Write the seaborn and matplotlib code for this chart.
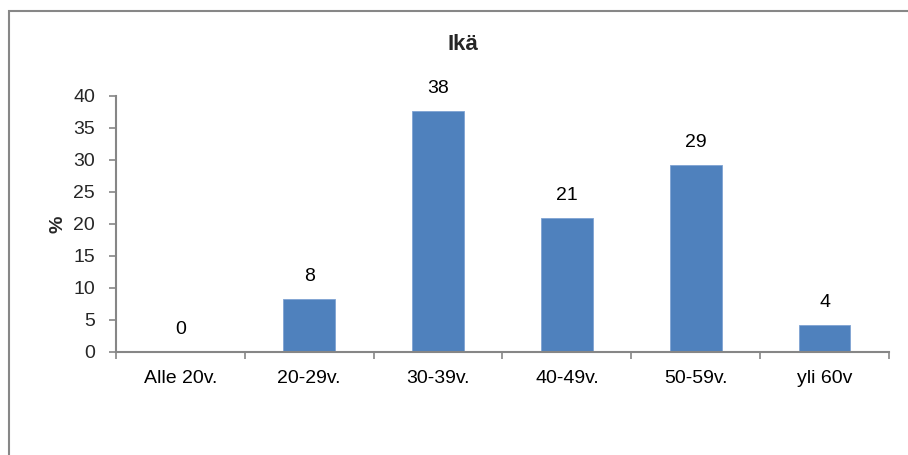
import matplotlib
matplotlib.use("Agg")
import matplotlib.pyplot as plt
import seaborn as sns
import pandas as pd
from matplotlib.patches import Rectangle

categories = ["Alle 20v.", "20-29v.", "30-39v.", "40-49v.", "50-59v.", "yli 60v"]
values = [0, 8.3, 37.6, 20.9, 29.2, 4.2]
labels = ["0", "8", "38", "21", "29", "4"]
yticks = [0, 5, 10, 15, 20, 25, 30, 35, 40]

sns.set_theme(style="white")
plt.rcParams["font.family"] = ["Liberation Sans", "DejaVu Sans"]

df = pd.DataFrame({"cat": categories, "val": values})

fig = plt.figure(figsize=(9.08, 4.55), dpi=100)
ax = fig.add_axes([116/908, 1-352/455, (889-116)/908, (352-96)/455])

sns.barplot(data=df, x="cat", y="val", color="#4F81BD", width=0.4,
            saturation=1, ax=ax, edgecolor="#7FA3D3", linewidth=0.6)

ax.bar_label(ax.containers[0], labels=labels, padding=10, fontsize=14, color="black")

ax.set_xlim(-0.5, len(categories) - 0.5)
ax.set_ylim(0, 40)
ax.set_yticks(yticks)
ax.set_yticklabels([str(t) for t in yticks], fontsize=14)
ax.set_xticks(range(len(categories)))
ax.set_xticklabels(categories, fontsize=14)
ax.set_xticks([i - 0.5 for i in range(len(categories) + 1)], minor=True)
ax.tick_params(axis="x", which="major", length=0, pad=13, colors="black")
ax.tick_params(axis="x", which="minor", length=5, width=1.2, color="#868686", direction="out", bottom=True)
ax.tick_params(axis="y", which="major", length=5, width=1.2, color="#868686", direction="out", left=True, pad=10)

for s in ["top", "right"]:
    ax.spines[s].set_visible(False)
for s in ["left", "bottom"]:
    ax.spines[s].set_color("#868686")
    ax.spines[s].set_linewidth(1.5)

ax.set_xlabel("")
ax.set_ylabel("%", fontsize=14, fontweight="bold", labelpad=5)
ax.set_title("Ikä", fontsize=16, fontweight="bold", pad=33, x=(463-116)/773)

fig.patches.append(Rectangle((9/908, -0.1), 1.2, 1 - 11/455 + 0.1, transform=fig.transFigure,
                             fill=False, edgecolor="#878787", linewidth=1.5, figure=fig))

fig.savefig("out.png", dpi=100)
